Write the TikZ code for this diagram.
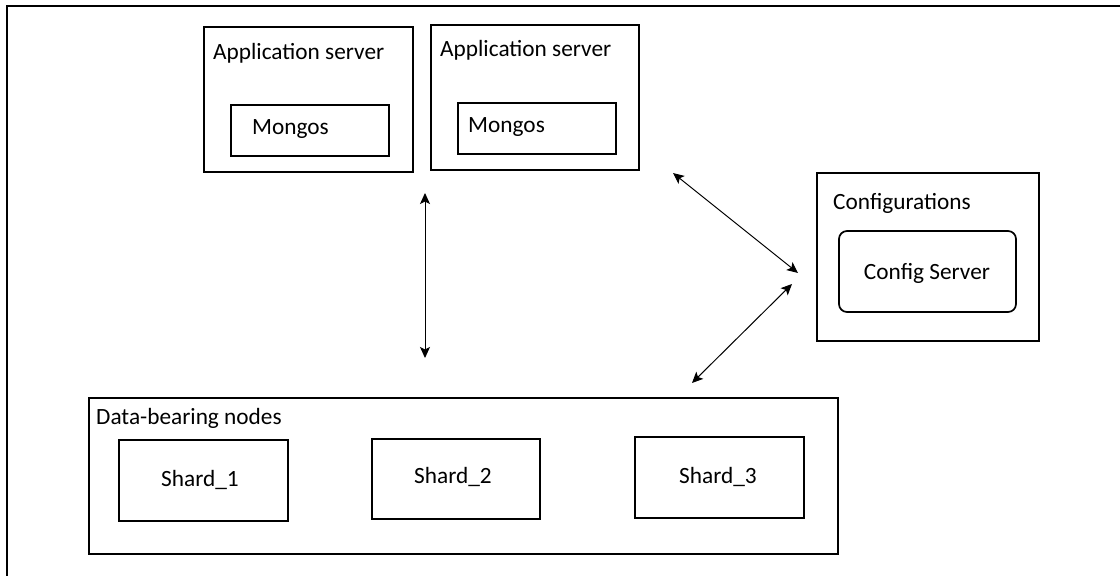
\documentclass[tikz,border=0pt]{standalone}
\usepackage{fontspec}
\setmainfont{Carlito}
\usetikzlibrary{arrows.meta}
\begin{document}
\begin{tikzpicture}[x=1pt,y=-1pt,
  rectbox/.style={draw, line width=1.7pt, inner sep=0pt, outer sep=0pt, anchor=north west},
  lbl/.style={inner sep=0pt, anchor=base west, font=\fontsize{23.3}{28}\selectfont},
  clbl/.style={inner sep=0pt, anchor=base, font=\fontsize{23.3}{28}\selectfont},
  arr/.style={{Stealth[length=11pt,width=10pt,inset=2.5pt]}-{Stealth[length=11pt,width=10pt,inset=2.5pt]}, line width=1pt}]
\useasboundingbox (0,0) rectangle (1120,576);
% outer frame
\draw[line width=2pt] (7,576) -- (7,6) -- (1120,6);
% application server 1
\node[rectbox, minimum width=209pt, minimum height=145pt] (app1) at (204,27) {};
\node[lbl] (app1t) at (213,59) {Application server};
\node[rectbox, minimum width=158pt, minimum height=51pt] (mg1) at (231,105) {};
\node[lbl] (mg1t) at (252,134) {Mongos};
% application server 2
\node[rectbox, minimum width=208pt, minimum height=145pt] (app2) at (431,25) {};
\node[lbl] (app2t) at (440,56) {Application server};
\node[rectbox, minimum width=158pt, minimum height=51pt] (mg2) at (458,103) {};
\node[lbl] (mg2t) at (468,132) {Mongos};
% configurations
\node[rectbox, minimum width=222pt, minimum height=168pt] (conf) at (817,173) {};
\node[lbl] (conft) at (833,209) {Configurations};
\node[rectbox, rounded corners=8pt, minimum width=177pt, minimum height=81pt] (cfgs) at (839,231) {};
\node[clbl] (cfgst) at (927,279) {Config Server};
% data-bearing nodes
\node[rectbox, minimum width=749pt, minimum height=156pt] (data) at (89,398) {};
\node[lbl] (datat) at (96,424) {Data-bearing nodes};
\node[rectbox, minimum width=169pt, minimum height=81pt] (s1) at (119,440) {};
\node[clbl] (s1t) at (200,486) {Shard\_1};
\node[rectbox, minimum width=168pt, minimum height=80pt] (s2) at (372,439) {};
\node[clbl] (s2t) at (453,483) {Shard\_2};
\node[rectbox, minimum width=169pt, minimum height=81pt] (s3) at (635,437) {};
\node[clbl] (s3t) at (718,483) {Shard\_3};
% connectors
\coordinate (v1) at (425,193);
\coordinate (v2) at (425,358);
\coordinate (d1a) at (673,173);
\coordinate (d1b) at (798,273);
\coordinate (d2a) at (792,284);
\coordinate (d2b) at (692,383);
\draw[arr] (v1) -- (v2);
\draw[arr] (d1a) -- (d1b);
\draw[arr] (d2a) -- (d2b);
\end{tikzpicture}
\end{document}
